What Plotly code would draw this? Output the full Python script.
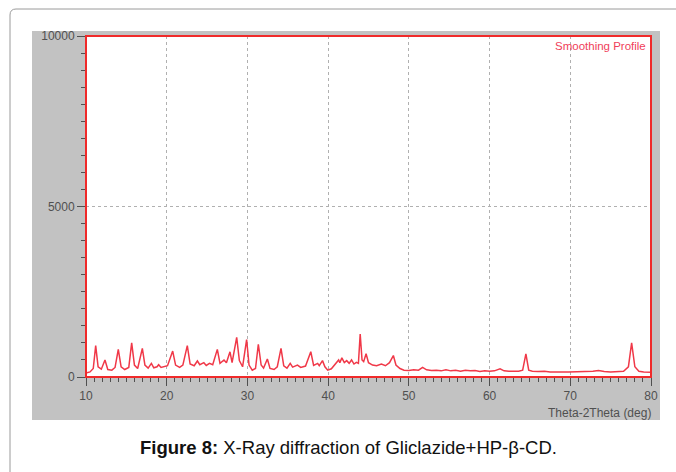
import plotly.graph_objects as go

# 2-theta (deg) and intensity (counts)
theta = [10.0, 10.5, 10.9, 11.2, 11.5, 11.9, 12.35, 12.7, 13.2, 13.6, 14.0, 14.35, 14.8, 15.3, 15.66,
         16.0, 16.4, 16.98, 17.3, 17.7, 18.1, 18.4, 18.8, 19.0, 19.3, 19.7, 20.1, 20.74, 21.1, 21.6,
         22.0, 22.55, 22.9, 23.4, 23.8, 24.1, 24.6, 24.9, 25.3, 25.7, 26.27, 26.6, 27.1, 27.4, 27.84,
         28.1, 28.67, 29.0, 29.4, 29.9, 30.2, 30.6, 31.0, 31.35, 31.7, 32.0, 32.47, 32.8, 33.3, 33.7,
         34.16, 34.5, 34.9, 35.3, 35.6, 36.2, 36.6, 37.2, 37.85, 38.2, 38.7, 38.9, 39.3, 39.6, 39.95,
         40.4, 40.9, 41.3, 41.45, 41.7, 42.0, 42.3, 42.6, 42.9, 43.2, 43.5, 43.75, 43.97, 44.2, 44.4,
         44.7, 45.0, 45.5, 46.0, 46.6, 47.1, 47.6, 48.08, 48.4, 48.9, 49.4, 50.0, 50.6, 51.2, 51.7,
         52.2, 52.8, 53.4, 54.0, 54.6, 55.2, 55.8, 56.4, 57.0, 57.6, 58.2, 58.8, 59.4, 60.0, 60.6,
         61.3, 61.8, 62.4, 63.0, 63.6, 64.1, 64.5, 64.85, 65.3, 66.0, 66.8, 67.5, 68.2, 69.0, 69.8,
         70.5, 71.3, 72.0, 72.8, 73.5, 74.2, 75.0, 75.8, 76.6, 77.2, 77.6, 78.0, 78.5, 79.1, 80.0]
intensity = [120, 150, 250, 920, 300, 230, 500, 220, 200, 280, 810, 300, 220, 280, 1000,
             350, 250, 840, 350, 260, 400, 270, 300, 360, 280, 300, 330, 760, 350, 280,
             350, 920, 380, 330, 470, 360, 420, 340, 400, 360, 810, 400, 500, 420, 740,
             420, 1160, 480, 300, 1100, 350, 200, 250, 960, 350, 260, 530, 250, 220, 300,
             840, 330, 260, 400, 290, 350, 280, 320, 740, 340, 400, 330, 480, 300, 200,
             240, 380, 500, 420, 560, 420, 480, 400, 500, 380, 430, 400, 1260, 500, 450,
             680, 420, 350, 330, 380, 330, 420, 630, 350, 250, 200, 190, 210, 200, 280,
             210, 190, 200, 180, 210, 180, 200, 170, 200, 180, 190, 160, 180, 170, 180,
             240, 180, 170, 160, 170, 200, 680, 200, 170, 160, 170, 150, 160, 150, 150,
             150, 160, 150, 170, 190, 160, 150, 160, 170, 300, 1000, 300, 170, 150, 140]

x_ticks = [10, 20, 30, 40, 50, 60, 70, 80]
y_ticks = [0, 5000, 10000]

W, H = 676, 472
L, R, T, B = 86, 651, 36, 377  # plot area in pixels


def px(x):
    return (x - L) / (R - L)


def py(y):
    return (B - y) / (B - T)


fig = go.Figure()
fig.add_trace(go.Scatter(x=theta, y=intensity, mode="lines",
                         line=dict(color="#f03848", width=1.5), showlegend=False,
                         hoverinfo="skip"))

tickfont = dict(family="Liberation Sans, Arial, sans-serif", size=12, color="#505050")

# outer rounded frame
r = 6
x0, y1 = px(10), py(9)
xr, yb = px(690), py(490)
dx, dy = r / (R - L), r / (B - T)
frame = f"M {x0},{yb} L {x0},{y1 - dy} Q {x0},{y1} {x0 + dx},{y1} L {xr},{y1}"

shapes = [
    dict(type="rect", xref="paper", yref="paper", x0=px(32), x1=px(660), y0=py(420), y1=py(31),
         fillcolor="#c2c2c2", line=dict(width=0), layer="below"),
    dict(type="rect", xref="paper", yref="paper", x0=0, x1=1, y0=0, y1=1,
         fillcolor="white", line=dict(width=0), layer="below"),
    dict(type="path", xref="paper", yref="paper", path=frame,
         line=dict(color="#9a9a9a", width=1)),
    dict(type="rect", xref="paper", yref="paper", x0=0, x1=1, y0=0, y1=1,
         line=dict(color="#f02a2a", width=2), layer="above"),
]

annotations = [
    dict(text="Smoothing Profile", xref="paper", yref="paper", x=px(648), y=py(46),
         xanchor="right", yanchor="middle", showarrow=False,
         font=dict(family="Liberation Sans, Arial, sans-serif", size=11.5, color="#f0405a")),
    dict(text="Theta-2Theta (deg)", xref="paper", yref="paper", x=px(653), y=py(413),
         xanchor="right", yanchor="middle", showarrow=False, font=tickfont),
    dict(text="<b>Figure 8:</b> X-Ray diffraction of Gliclazide+HP-β-CD.", xref="paper", yref="paper",
         x=px(348), y=py(447), xanchor="center", yanchor="middle", showarrow=False,
         font=dict(family="Liberation Sans, Arial, sans-serif", size=18.5, color="#111111")),
]

fig.update_layout(
    width=W, height=H,
    margin=dict(l=L, r=W - R, t=T, b=H - B, pad=0),
    paper_bgcolor="white", plot_bgcolor="rgba(0,0,0,0)",
    shapes=shapes, annotations=annotations, showlegend=False,
    xaxis=dict(range=[10, 80], tickvals=x_ticks, ticktext=[str(v) for v in x_ticks],
               showgrid=True, gridcolor="#b0b0b0", griddash="dot", gridwidth=1,
               ticks="outside", ticklen=8, tickcolor="#505050", tickwidth=1,
               minor=dict(dtick=1, ticks="outside", ticklen=4, tickcolor="#505050", showgrid=False),
               showline=False, zeroline=False, tickfont=tickfont, fixedrange=True),
    yaxis=dict(range=[0, 10000], tickvals=y_ticks, ticktext=[str(v) for v in y_ticks],
               showgrid=True, gridcolor="#b0b0b0", griddash="dot", gridwidth=1,
               ticks="outside", ticklen=8, tickcolor="#505050", tickwidth=1,
               minor=dict(dtick=500, ticks="outside", ticklen=4, tickcolor="#505050", showgrid=False),
               showline=False, zeroline=False, tickfont=tickfont, fixedrange=True),
)

fig.write_html("out.html")
